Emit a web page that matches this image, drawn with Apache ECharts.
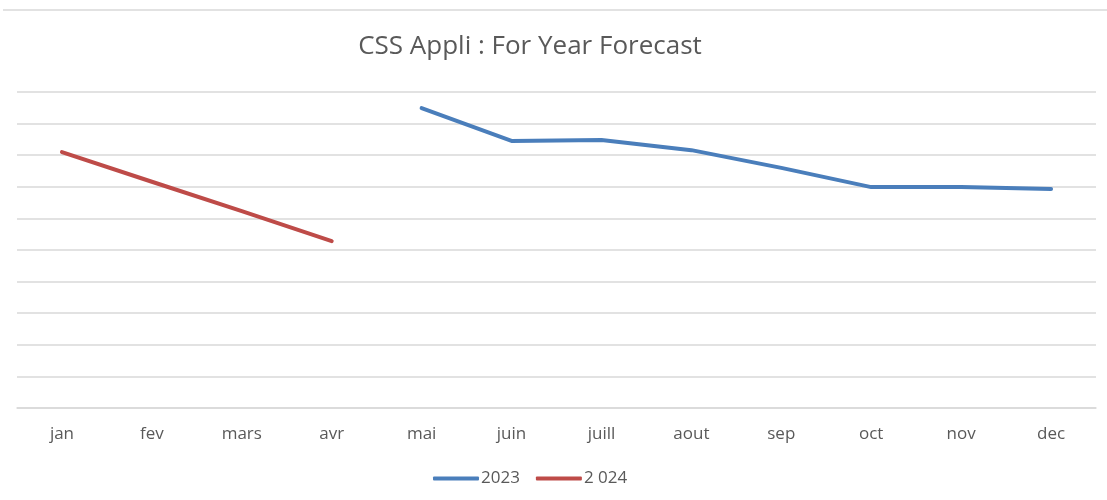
<!DOCTYPE html>
<html>
<head>
<meta charset="utf-8">
<script src="https://cdn.jsdelivr.net/npm/echarts@6/dist/echarts.min.js"></script>
<style>
  html, body { margin: 0; padding: 0; background: #fff; }
  #chart { width: 1107px; height: 500px; }
</style>
</head>
<body>
<div id="chart"></div>
<script>
var months = ['jan', 'fev', 'mars', 'avr', 'mai', 'juin', 'juill', 'aout', 'sep', 'oct', 'nov', 'dec'];
var serie2023 = [null, null, null, null, 9.49, 8.45, 8.48, 8.16, 7.6, 6.99, 6.99, 6.93];
var serie2024 = [8.1, 7.16, 6.23, 5.28, null, null, null, null, null, null, null, null];

var chart = echarts.init(document.getElementById('chart'), null, { renderer: 'canvas' });
var textColor = '#595959';

var option = {
  backgroundColor: '#fff',
  title: {
    text: 'CSS Appli : For Year Forecast',
    left: 525,
    top: 29,
    textAlign: 'center',
    textStyle: {
      fontFamily: 'Open Sans',
      fontSize: 26,
      fontWeight: 'normal',
      color: textColor
    }
  },
  legend: {
    data: ['2023', '2 024'],
    top: 465,
    left: 428,
    itemWidth: 46,
    itemHeight: 4,
    itemGap: 16,
    icon: 'roundRect',
    textStyle: {
      fontFamily: 'Open Sans',
      fontSize: 17,
      color: textColor,
      padding: [0, 0, 0, -3]
    }
  },
  grid: {
    left: 17,
    right: 11,
    top: 92,
    bottom: 92
  },
  xAxis: {
    type: 'category',
    data: months,
    boundaryGap: true,
    axisLine: { show: true, lineStyle: { color: '#d9d9d9', width: 1.5 } },
    axisTick: { show: false },
    axisLabel: {
      margin: 18,
      fontFamily: 'Open Sans',
      fontSize: 17,
      color: textColor
    }
  },
  yAxis: {
    type: 'value',
    min: 0,
    max: 10,
    interval: 1,
    axisLabel: { show: false },
    axisLine: { show: false },
    axisTick: { show: false },
    splitLine: { show: true, lineStyle: { color: '#d9d9d9', width: 1.5 } }
  },
  graphic: [{
    type: 'line',
    shape: { x1: 3, y1: 10, x2: 1107, y2: 10 },
    style: { stroke: '#d9d9d9', lineWidth: 1.5 }
  }],
  series: [{
    name: '2023',
    type: 'line',
    data: serie2023,
    symbol: 'none',
    color: '#4a7ebb',
    lineStyle: { width: 4, cap: 'round', join: 'round' }
  }, {
    name: '2 024',
    type: 'line',
    data: serie2024,
    symbol: 'none',
    color: '#be4b48',
    lineStyle: { width: 4, cap: 'round', join: 'round' }
  }]
};

chart.setOption(option);
</script>
</body>
</html>
